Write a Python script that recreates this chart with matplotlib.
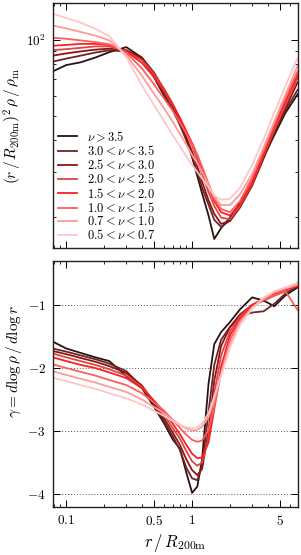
import numpy as np
import matplotlib
matplotlib.use("Agg")
import matplotlib.pyplot as plt
from matplotlib.ticker import LogLocator, NullFormatter, FixedLocator, FixedFormatter

plt.rcParams['mathtext.fontset'] = 'cm'
plt.rcParams['font.family'] = ['DejaVu Serif']

# radius grid r / R200m
radius = [0.078, 0.1, 0.13, 0.17, 0.22, 0.3, 0.4, 0.5, 0.6, 0.7, 0.8, 0.9, 1.0,
          1.1, 1.2, 1.35, 1.5, 1.7, 2.0, 2.4, 3.0, 3.7, 4.5, 5.5, 6.9]

labels = [r'$\nu > 3.5$', r'$3.0 < \nu < 3.5$', r'$2.5 < \nu < 3.0$', r'$2.0 < \nu < 2.5$',
          r'$1.5 < \nu < 2.0$', r'$1.0 < \nu < 1.5$', r'$0.7 < \nu < 1.0$', r'$0.5 < \nu < 0.7$']
colors = ['#2a1212', '#6a2626', '#8e1414', '#dc4646', '#ff1e1e', '#ff5c5c', '#ff9a9a', '#ffc6c6']

# top panel: (r/R200m)^2 rho / rho_m
prof_1 = [75.0, 79.5, 81.5, 85.1, 89.4, 93.6, 85.0, 71.0, 60.0, 53.0, 46.5, 41.0, 34.3,
          28.9, 24.7, 20.2, 16.3, 18.0, 19.8, 22.7, 26.8, 34.3, 42.0, 51.3, 61.0]
prof_2 = [82.0, 84.3, 86.6, 89.1, 90.9, 90.0, 84.0, 71.5, 61.0, 53.0, 46.0, 40.0, 34.5,
          30.0, 26.0, 22.3, 19.4, 18.2, 19.3, 22.0, 27.0, 34.5, 43.0, 52.5, 63.5]
prof_3 = [86.6, 88.4, 90.0, 91.5, 92.3, 91.0, 85.0, 74.0, 63.5, 55.0, 47.5, 41.0, 36.0,
          31.5, 27.5, 23.2, 20.5, 18.7, 19.2, 21.7, 26.5, 34.0, 43.0, 53.5, 68.0]
prof_4 = [91.1, 91.9, 93.0, 94.2, 94.2, 90.0, 83.0, 73.0, 64.0, 56.0, 49.0, 43.0, 38.0,
          33.5, 29.5, 25.0, 22.0, 19.8, 19.5, 22.0, 27.0, 35.0, 44.0, 55.0, 71.0]
prof_5 = [94.8, 95.5, 96.4, 96.4, 95.5, 90.0, 81.0, 71.0, 62.5, 55.5, 49.0, 43.5, 39.0,
          35.0, 31.0, 26.5, 23.0, 20.8, 20.2, 22.3, 27.5, 35.5, 45.5, 57.0, 73.0]
prof_6 = [102.0, 101.0, 99.5, 98.0, 96.0, 89.0, 77.0, 66.5, 58.5, 52.5, 47.0, 42.5, 38.5,
          35.0, 31.5, 27.0, 23.5, 21.4, 20.8, 23.0, 28.5, 36.5, 46.5, 59.0, 75.0]
prof_7 = [114.0, 111.0, 107.5, 104.0, 99.5, 87.0, 72.0, 61.0, 53.5, 47.5, 42.5, 38.5, 35.0,
          32.5, 30.0, 26.8, 24.0, 22.2, 22.2, 24.5, 29.5, 37.5, 47.5, 60.5, 79.0]
prof_8 = [127.0, 122.0, 117.0, 110.5, 103.5, 85.5, 66.0, 55.0, 47.5, 42.0, 38.0, 34.5, 32.0,
          30.0, 28.3, 26.2, 24.2, 23.3, 23.5, 26.0, 32.0, 40.5, 51.5, 65.5, 85.0]
profiles = [prof_1, prof_2, prof_3, prof_4, prof_5, prof_6, prof_7, prof_8]

# bottom panel: logarithmic slope gamma
slope_1 = [-1.58, -1.69, -1.76, -1.83, -1.89, -2.13, -2.32, -2.62, -2.88, -3.13, -3.28, -3.66, -3.98,
           -3.88, -3.45, -2.25, -1.62, -1.43, -1.27, -1.07, -0.88, -0.93, -1.02, -0.85, -0.72]
slope_2 = [-1.69, -1.74, -1.80, -1.86, -1.93, -2.05, -2.30, -2.57, -2.85, -3.08, -3.30, -3.58, -3.75,
           -3.78, -3.55, -2.70, -1.95, -1.55, -1.35, -1.18, -1.12, -1.10, -0.98, -0.82, -0.70]
slope_3 = [-1.73, -1.78, -1.84, -1.90, -1.97, -2.08, -2.28, -2.55, -2.80, -3.02, -3.22, -3.45, -3.62,
           -3.70, -3.60, -3.00, -2.20, -1.65, -1.35, -1.15, -1.00, -0.93, -0.85, -0.78, -0.65]
slope_4 = [-1.77, -1.83, -1.89, -1.95, -2.02, -2.12, -2.30, -2.53, -2.75, -2.95, -3.12, -3.32, -3.48,
           -3.55, -3.50, -3.10, -2.40, -1.80, -1.42, -1.18, -1.00, -0.92, -0.85, -0.78, -0.68]
slope_5 = [-1.83, -1.89, -1.95, -2.00, -2.07, -2.16, -2.32, -2.52, -2.70, -2.88, -3.05, -3.22, -3.36,
           -3.43, -3.42, -3.18, -2.65, -1.98, -1.48, -1.22, -1.00, -0.90, -0.82, -0.75, -0.70]
slope_6 = [-1.94, -2.00, -2.06, -2.12, -2.19, -2.27, -2.40, -2.55, -2.68, -2.82, -2.95, -3.06, -3.14,
           -3.17, -3.15, -2.98, -2.62, -2.08, -1.55, -1.25, -1.03, -0.92, -0.85, -0.78, -1.08]
slope_7 = [-2.05, -2.11, -2.17, -2.23, -2.30, -2.38, -2.50, -2.62, -2.72, -2.82, -2.90, -2.96, -2.99,
           -2.98, -2.93, -2.78, -2.50, -2.10, -1.62, -1.28, -1.04, -0.90, -0.80, -0.74, -0.68]
slope_8 = [-2.15, -2.21, -2.27, -2.33, -2.40, -2.48, -2.58, -2.68, -2.76, -2.84, -2.90, -2.94, -2.95,
           -2.94, -2.88, -2.72, -2.45, -2.12, -1.68, -1.32, -1.06, -0.88, -0.78, -0.72, -0.65]
slopes = [slope_1, slope_2, slope_3, slope_4, slope_5, slope_6, slope_7, slope_8]

xticks = [0.1, 0.5, 1, 5]
xticklabels = [r'$0.1$', r'$0.5$', r'$1$', r'$5$']
yticks_bottom = [-1, -2, -3, -4]
yticklabels_bottom = [r'$-1$', r'$-2$', r'$-3$', r'$-4$']

fig = plt.figure(figsize=(3.01, 5.55), dpi=100)
ax1 = fig.add_axes([0.175, 0.553, 0.814, 0.441])
ax2 = fig.add_axes([0.175, 0.087, 0.814, 0.443])

for ax in (ax1, ax2):
    ax.set_xscale('log')
    ax.set_xlim(0.078, 6.9)
    ax.tick_params(which='both', direction='in', top=True, right=True, labelsize=9.5)
    ax.tick_params(which='major', length=5, width=0.7, pad=5)
    ax.tick_params(which='minor', length=2.5, width=0.6)
    for s in ax.spines.values():
        s.set_linewidth(1.0)
        s.set_color('#222222')

for i in range(len(labels)):
    ax1.plot(radius, profiles[i], color=colors[i], lw=1.3, label=labels[i])
    ax2.plot(radius, slopes[i], color=colors[i], lw=1.3)

ax1.set_yscale('log')
ax1.set_ylim(15.0, 139.5)
ax1.yaxis.set_major_locator(FixedLocator([100]))
ax1.yaxis.set_major_formatter(FixedFormatter([r'$10^2$']))
ax1.yaxis.set_minor_locator(LogLocator(base=10, subs=np.arange(2, 10)))
ax1.yaxis.set_minor_formatter(NullFormatter())
ax1.xaxis.set_major_locator(FixedLocator(xticks))
ax1.xaxis.set_major_formatter(NullFormatter())
ax1.xaxis.set_minor_formatter(NullFormatter())
ax1.set_ylabel(r'$(r\,/\,R_{\rm 200m})^2\,\rho\,/\,\rho_{\rm m}$', fontsize=11)
ax1.yaxis.set_label_coords(-0.118, 0.5)
leg = ax1.legend(loc='lower left', frameon=False, fontsize=9, handlelength=1.5,
                 handletextpad=0.8, labelspacing=0.02, borderaxespad=0.25,
                 borderpad=0.2)

ax2.set_ylim(-4.2, -0.3)
ax2.yaxis.set_major_locator(FixedLocator(yticks_bottom))
ax2.yaxis.set_major_formatter(FixedFormatter(yticklabels_bottom))
ax2.xaxis.set_major_locator(FixedLocator(xticks))
ax2.xaxis.set_major_formatter(FixedFormatter(xticklabels))
ax2.xaxis.set_minor_formatter(NullFormatter())
for yv in yticks_bottom:
    ax2.axhline(yv, color='#555555', lw=0.7, ls=(0, (1, 2)), zorder=0)
ax2.set_ylabel(r'$\gamma = d\log\rho\,/\,d\log r$', fontsize=11)
ax2.yaxis.set_label_coords(-0.118, 0.59)
ax2.set_xlabel(r'$r\,/\,R_{\rm 200m}$', fontsize=12, labelpad=3)

fig.savefig('out.png', dpi=100)
